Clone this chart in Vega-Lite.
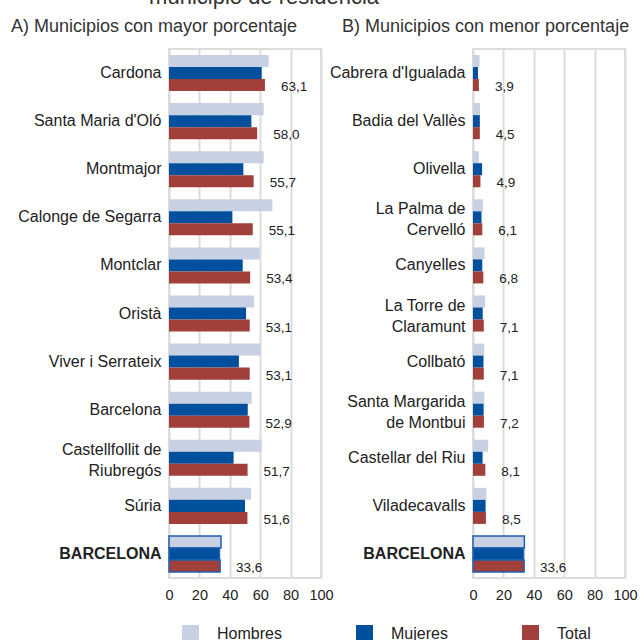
{
  "$schema": "https://vega.github.io/schema/vega-lite/v6.json",
  "padding": {"left": 10, "top": -14, "right": 0, "bottom": 0},
  "title": {"text": "municipio de residencia", "fontSize": 22, "fontWeight": "normal", "color": "#333", "anchor": "middle", "offset": 8, "dx": -60},
  "config": {
    "font": "Liberation Sans",
    "locale": {"number": {"decimal": ",", "thousands": ".", "grouping": [3], "currency": ["", " €"]}},
    "view": {"stroke": "#dcdcdc", "strokeWidth": 2},
    "axis": {"labelFont": "Liberation Sans", "labelColor": "#222", "domain": false, "ticks": false, "title": null},
    "legend": {"orient": "none", "legendX": 13, "legendY": 576, "direction": "horizontal", "title": null,
      "symbolType": "square", "symbolSize": 289, "symbolStrokeWidth": 0, "labelFontSize": 16, "labelColor": "#222",
      "labelOffset": 18, "columnPadding": 74},
    "concat": {"spacing": -7}
  },
  "datasets": {
    "A": [
      {"municipio": "Cardona", "sexo": "Hombres", "valor": 65.6},
      {"municipio": "Cardona", "sexo": "Mujeres", "valor": 61.0},
      {"municipio": "Cardona", "sexo": "Total", "valor": 63.1},
      {"municipio": "Santa Maria d'Oló", "sexo": "Hombres", "valor": 62.3},
      {"municipio": "Santa Maria d'Oló", "sexo": "Mujeres", "valor": 54.2},
      {"municipio": "Santa Maria d'Oló", "sexo": "Total", "valor": 58.0},
      {"municipio": "Montmajor", "sexo": "Hombres", "valor": 62.3},
      {"municipio": "Montmajor", "sexo": "Mujeres", "valor": 48.9},
      {"municipio": "Montmajor", "sexo": "Total", "valor": 55.7},
      {"municipio": "Calonge de Segarra", "sexo": "Hombres", "valor": 68.0},
      {"municipio": "Calonge de Segarra", "sexo": "Mujeres", "valor": 41.7},
      {"municipio": "Calonge de Segarra", "sexo": "Total", "valor": 55.1},
      {"municipio": "Montclar", "sexo": "Hombres", "valor": 59.6},
      {"municipio": "Montclar", "sexo": "Mujeres", "valor": 48.5},
      {"municipio": "Montclar", "sexo": "Total", "valor": 53.4},
      {"municipio": "Oristà", "sexo": "Hombres", "valor": 56.0},
      {"municipio": "Oristà", "sexo": "Mujeres", "valor": 50.7},
      {"municipio": "Oristà", "sexo": "Total", "valor": 53.1},
      {"municipio": "Viver i Serrateix", "sexo": "Hombres", "valor": 60.3},
      {"municipio": "Viver i Serrateix", "sexo": "Mujeres", "valor": 46.0},
      {"municipio": "Viver i Serrateix", "sexo": "Total", "valor": 53.1},
      {"municipio": "Barcelona", "sexo": "Hombres", "valor": 54.4},
      {"municipio": "Barcelona", "sexo": "Mujeres", "valor": 51.8},
      {"municipio": "Barcelona", "sexo": "Total", "valor": 52.9},
      {"municipio": "Castellfollit de|Riubregós", "sexo": "Hombres", "valor": 61.0},
      {"municipio": "Castellfollit de|Riubregós", "sexo": "Mujeres", "valor": 42.5},
      {"municipio": "Castellfollit de|Riubregós", "sexo": "Total", "valor": 51.7},
      {"municipio": "Súria", "sexo": "Hombres", "valor": 54.0},
      {"municipio": "Súria", "sexo": "Mujeres", "valor": 50.0},
      {"municipio": "Súria", "sexo": "Total", "valor": 51.6},
      {"municipio": "BARCELONA", "sexo": "Hombres", "valor": 34.2},
      {"municipio": "BARCELONA", "sexo": "Mujeres", "valor": 33.2},
      {"municipio": "BARCELONA", "sexo": "Total", "valor": 33.6}
    ],
    "B": [
      {"municipio": "Cabrera d'Igualada", "sexo": "Hombres", "valor": 4.3},
      {"municipio": "Cabrera d'Igualada", "sexo": "Mujeres", "valor": 3.3},
      {"municipio": "Cabrera d'Igualada", "sexo": "Total", "valor": 3.9},
      {"municipio": "Badia del Vallès", "sexo": "Hombres", "valor": 4.6},
      {"municipio": "Badia del Vallès", "sexo": "Mujeres", "valor": 4.5},
      {"municipio": "Badia del Vallès", "sexo": "Total", "valor": 4.5},
      {"municipio": "Olivella", "sexo": "Hombres", "valor": 3.8},
      {"municipio": "Olivella", "sexo": "Mujeres", "valor": 6.0},
      {"municipio": "Olivella", "sexo": "Total", "valor": 4.9},
      {"municipio": "La Palma de|Cervelló", "sexo": "Hombres", "valor": 6.5},
      {"municipio": "La Palma de|Cervelló", "sexo": "Mujeres", "valor": 5.6},
      {"municipio": "La Palma de|Cervelló", "sexo": "Total", "valor": 6.1},
      {"municipio": "Canyelles", "sexo": "Hombres", "valor": 7.6},
      {"municipio": "Canyelles", "sexo": "Mujeres", "valor": 6.1},
      {"municipio": "Canyelles", "sexo": "Total", "valor": 6.8},
      {"municipio": "La Torre de|Claramunt", "sexo": "Hombres", "valor": 8.0},
      {"municipio": "La Torre de|Claramunt", "sexo": "Mujeres", "valor": 6.4},
      {"municipio": "La Torre de|Claramunt", "sexo": "Total", "valor": 7.1},
      {"municipio": "Collbató", "sexo": "Hombres", "valor": 7.4},
      {"municipio": "Collbató", "sexo": "Mujeres", "valor": 6.9},
      {"municipio": "Collbató", "sexo": "Total", "valor": 7.1},
      {"municipio": "Santa Margarida|de Montbui", "sexo": "Hombres", "valor": 7.5},
      {"municipio": "Santa Margarida|de Montbui", "sexo": "Mujeres", "valor": 7.0},
      {"municipio": "Santa Margarida|de Montbui", "sexo": "Total", "valor": 7.2},
      {"municipio": "Castellar del Riu", "sexo": "Hombres", "valor": 10.0},
      {"municipio": "Castellar del Riu", "sexo": "Mujeres", "valor": 6.3},
      {"municipio": "Castellar del Riu", "sexo": "Total", "valor": 8.1},
      {"municipio": "Viladecavalls", "sexo": "Hombres", "valor": 8.8},
      {"municipio": "Viladecavalls", "sexo": "Mujeres", "valor": 8.3},
      {"municipio": "Viladecavalls", "sexo": "Total", "valor": 8.5},
      {"municipio": "BARCELONA", "sexo": "Hombres", "valor": 33.8},
      {"municipio": "BARCELONA", "sexo": "Mujeres", "valor": 33.3},
      {"municipio": "BARCELONA", "sexo": "Total", "valor": 33.6}
    ]
  },
  "hconcat": [
    {
      "data": {"name": "A"},
      "width": 152,
      "height": 529,
      "title": {"text": "A) Municipios con mayor porcentaje", "anchor": "start", "frame": "group", "dx": -158, "fontSize": 18, "fontWeight": "normal", "color": "#333", "offset": 13},
      "encoding": {
        "y": {"field": "municipio", "type": "nominal", "sort": null,
          "scale": {"paddingInner": 0.25, "paddingOuter": 0.125},
          "axis": {"labelFontSize": 16, "labelPadding": 8, "labelLineHeight": 21, "labelLimit": 200,
            "labelExpr": "split(datum.value, '|')",
            "labelOffset": {"condition": {"test": "indexof(datum.value, '|') >= 0", "value": -8}, "value": 0},
            "labelFontWeight": {"condition": {"test": "datum.value === 'BARCELONA'", "value": "bold"}, "value": "normal"}}},
        "x": {"field": "valor", "type": "quantitative",
          "scale": {"domain": [0, 100], "nice": false},
          "axis": {"values": [0, 20, 40, 60, 80, 100], "labelFontSize": 14.5, "labelPadding": 10, "grid": true, "gridColor": "#dcdcdc", "gridWidth": 2, "labelFlush": false}}
      },
      "layer": [
        {
          "mark": {"type": "bar"},
          "encoding": {
            "yOffset": {"field": "sexo", "type": "nominal", "sort": ["Hombres", "Mujeres", "Total"], "scale": {"paddingInner": 0, "paddingOuter": 0}},
            "color": {"field": "sexo", "type": "nominal",
              "scale": {"domain": ["Hombres", "Mujeres", "Total"], "range": ["#c8d0e3", "#00509e", "#a1403a"]}},
            "stroke": {"condition": {"test": "datum.municipio === 'BARCELONA'", "value": "#1f5fae"}, "value": null},
            "strokeWidth": {"condition": {"test": "datum.municipio === 'BARCELONA'", "value": 1.5}, "value": 0}
          }
        },
        {
          "transform": [{"filter": "datum.sexo === 'Total'"}],
          "mark": {"type": "text", "align": "left", "baseline": "middle", "dx": 16, "dy": 14, "fontSize": 13.5, "color": "#222"},
          "encoding": {"text": {"field": "valor", "type": "quantitative", "format": ".1f"}}
        }
      ]
    },
    {
      "data": {"name": "B"},
      "width": 152,
      "height": 529,
      "title": {"text": "B) Municipios con menor porcentaje", "anchor": "start", "frame": "group", "dx": -131, "fontSize": 18, "fontWeight": "normal", "color": "#333", "offset": 13},
      "encoding": {
        "y": {"field": "municipio", "type": "nominal", "sort": null,
          "scale": {"paddingInner": 0.25, "paddingOuter": 0.125},
          "axis": {"labelFontSize": 16, "labelPadding": 8, "labelLineHeight": 21, "labelLimit": 200,
            "labelExpr": "split(datum.value, '|')",
            "labelOffset": {"condition": {"test": "indexof(datum.value, '|') >= 0", "value": -8}, "value": 0},
            "labelFontWeight": {"condition": {"test": "datum.value === 'BARCELONA'", "value": "bold"}, "value": "normal"}}},
        "x": {"field": "valor", "type": "quantitative",
          "scale": {"domain": [0, 100], "nice": false},
          "axis": {"values": [0, 20, 40, 60, 80, 100], "labelFontSize": 14.5, "labelPadding": 10, "grid": true, "gridColor": "#dcdcdc", "gridWidth": 2, "labelFlush": false}}
      },
      "layer": [
        {
          "mark": {"type": "bar"},
          "encoding": {
            "yOffset": {"field": "sexo", "type": "nominal", "sort": ["Hombres", "Mujeres", "Total"], "scale": {"paddingInner": 0, "paddingOuter": 0}},
            "color": {"field": "sexo", "type": "nominal",
              "scale": {"domain": ["Hombres", "Mujeres", "Total"], "range": ["#c8d0e3", "#00509e", "#a1403a"]}},
            "stroke": {"condition": {"test": "datum.municipio === 'BARCELONA'", "value": "#1f5fae"}, "value": null},
            "strokeWidth": {"condition": {"test": "datum.municipio === 'BARCELONA'", "value": 1.5}, "value": 0}
          }
        },
        {
          "transform": [{"filter": "datum.sexo === 'Total'"}],
          "mark": {"type": "text", "align": "left", "baseline": "middle", "dx": 16, "dy": 14, "fontSize": 13.5, "color": "#222"},
          "encoding": {"text": {"field": "valor", "type": "quantitative", "format": ".1f"}}
        }
      ]
    }
  ]
}
